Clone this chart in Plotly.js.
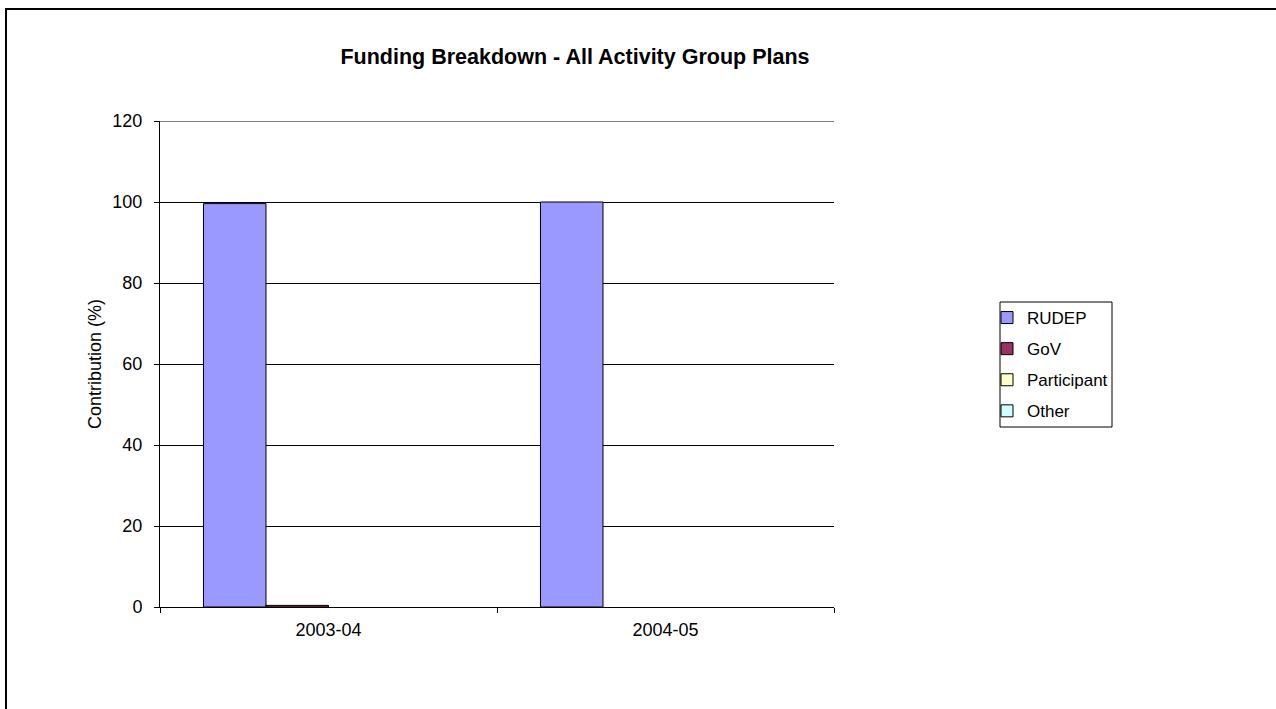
<!DOCTYPE html>
<html>
<head>
<meta charset="utf-8">
<script src="https://cdn.plot.ly/plotly-3.0.1.min.js"></script>
<style>
  html, body { margin: 0; padding: 0; background: #fff; overflow: hidden; }
  #frame { position: absolute; left: 5px; top: 8px; width: 1400px; height: 800px; border-left: 2px solid #000; border-top: 2px solid #000; pointer-events: none; z-index: 5; }
  #chart { position: absolute; left: 0; top: 0; width: 1276px; height: 709px; }
</style>
</head>
<body>
<div id="chart"></div>
<div id="frame"></div>
<script>
const categories = ["2003-04", "2004-05"];
const seriesNames = ["RUDEP", "GoV", "Participant", "Other"];
const rudep = [99.6, 100];
const gov = [0.4, 0];
const participant = [0, 0];
const other = [0, 0];
const yTicks = [0, 20, 40, 60, 80, 100, 120];

const colors = ["#9999FF", "#993366", "#FFFFCC", "#CCFFFF"];
const values = [rudep, gov, participant, other];

// zero-valued bars are not drawn (no outline), as in the reference
const traces = seriesNames.map((name, i) => ({
  type: "bar",
  name: name,
  x: categories,
  y: values[i].map(v => (v === 0 ? null : v)),
  legendgroup: "g" + i,
  marker: { color: colors[i], line: { color: "#000", width: 1 } },
  hoverinfo: "x+y+name"
}));

const W = 1276, H = 709;
const L = 160, R = 442, T = 121, B = 102;
const pw = W - L - R, ph = H - T - B;
const px = v => (v - L) / pw;
const py = v => (H - B - v) / ph;

const fam = "Liberation Sans, Arial, sans-serif";
const font = { family: fam, size: 18, color: "#000" };

const layout = {
  width: W,
  height: H,
  paper_bgcolor: "#fff",
  plot_bgcolor: "#fff",
  margin: { l: L, r: R, t: T, b: B, pad: 0 },
  font: font,
  barmode: "group",
  bargap: 0.258,
  bargroupgap: 0,
  title: {
    text: "<b>Funding Breakdown - All Activity Group Plans</b>",
    font: { family: fam, size: 21.5, color: "#000" },
    x: 575 / W,
    xref: "container",
    xanchor: "center",
    y: 1 - 56 / H,
    yref: "container",
    yanchor: "middle"
  },
  xaxis: {
    type: "category",
    showline: true,
    linecolor: "#000",
    linewidth: 1,
    ticks: "outside",
    tickson: "boundaries",
    ticklen: 5,
    tickcolor: "#000",
    showgrid: false,
    tickfont: font,
    ticklabelstandoff: 6,
    zeroline: false
  },
  yaxis: {
    range: [0, 120],
    tickvals: yTicks,
    ticktext: yTicks.map(String),
    showline: true,
    linecolor: "#000",
    linewidth: 1,
    ticks: "outside",
    ticklen: 5,
    tickcolor: "#000",
    showgrid: true,
    gridcolor: "#000",
    gridwidth: 1,
    zeroline: false,
    tickfont: font,
    ticklabelstandoff: 8,
    title: { text: "Contribution (%)", font: font, standoff: 6 }
  },
  shapes: [
    // top gridline at 120 (edge gridline not drawn by plotly)
    { type: "line", xref: "paper", yref: "y", x0: 0, x1: 1, y0: 120, y1: 120, line: { color: "#000", width: 1 } },
    // legend frame
    { type: "rect", xref: "paper", yref: "paper", x0: px(1000), x1: px(1112), y0: py(302), y1: py(427), line: { color: "#000", width: 1 }, fillcolor: "rgba(0,0,0,0)" }
  ],
  legend: {
    x: 987 / W,
    xref: "container",
    y: 1 - 300 / H,
    yref: "container",
    xanchor: "left",
    yanchor: "top",
    borderwidth: 0,
    bgcolor: "rgba(0,0,0,0)",
    font: { family: fam, size: 17, color: "#000" },
    traceorder: "grouped",
    tracegroupgap: 6,
    itemwidth: 30
  },
  showlegend: true
};

Plotly.newPlot("chart", traces, layout, { displayModeBar: false, staticPlot: true });
</script>
</body>
</html>
